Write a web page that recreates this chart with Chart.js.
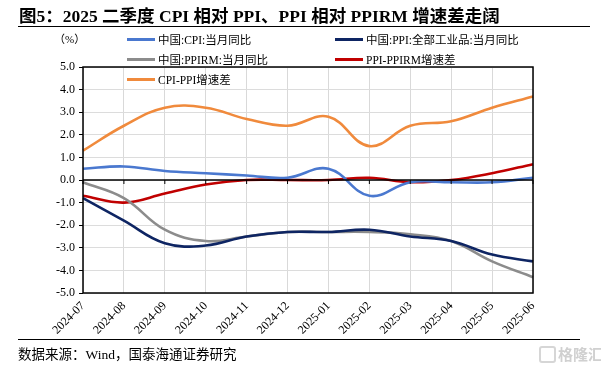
<!DOCTYPE html>
<html>
<head>
<meta charset="utf-8">
<script src="https://cdn.jsdelivr.net/npm/chart.js@4/dist/chart.umd.min.js"></script>
<style>
  html, body { margin:0; padding:0; background:#fff; }
  #wrap { position:relative; width:601px; height:377px; overflow:hidden; font-family:"Liberation Serif","Noto Sans CJK SC",serif; }
  #c { position:absolute; left:0; top:0; }
  .t { position:absolute; white-space:nowrap; color:#000; }
  .lg { position:absolute; height:3px; }
  .hr { position:absolute; height:0; border-top:1.5px solid #000; }
</style>
</head>
<body>
<div id="wrap">
  <canvas id="c" width="601" height="377"></canvas>
  <div class="t" style="left:19px;top:2px;font-size:17.5px;font-weight:bold;">图5：2025 二季度 CPI 相对 PPI、PPI 相对 PPIRM 增速差走阔</div>
  <div class="hr" style="left:18px;width:572px;top:26px;"></div>
  <div class="t" style="left:54px;top:30px;font-size:11px;">（%）</div>
  <div id="legend"></div>
  <div class="hr" style="left:18px;width:562px;top:339px;"></div>
  <div class="t" style="left:18px;top:343px;font-size:13.5px;">数据来源：Wind，国泰海通证券研究</div>
  <div class="t" style="left:539px;top:343px;font-size:15px;color:#d0d0d0;font-family:'Noto Sans CJK SC';font-weight:bold;"><span style="display:inline-block;width:13px;height:13px;border:2px solid #d6d6d6;border-radius:3px;vertical-align:-3px;margin-right:2px;"></span>格隆汇</div>
</div>
<script>
const categories = ["2024-07","2024-08","2024-09","2024-10","2024-11","2024-12","2025-01","2025-02","2025-03","2025-04","2025-05","2025-06"];
const cpiYoY      = [0.5, 0.6, 0.4, 0.3, 0.2, 0.1, 0.5, -0.7, -0.1, -0.1, -0.1, 0.1];
const ppiYoY      = [-0.8, -1.8, -2.8, -2.9, -2.5, -2.3, -2.3, -2.2, -2.5, -2.7, -3.3, -3.6];
const ppirmYoY    = [-0.1, -0.8, -2.2, -2.7, -2.5, -2.3, -2.3, -2.3, -2.4, -2.7, -3.6, -4.3];
const ppiPpirmGap = [-0.7, -1.0, -0.6, -0.2, 0.0, 0.0, 0.0, 0.1, -0.1, 0.0, 0.3, 0.7];
const cpiPpiGap   = [1.3, 2.4, 3.2, 3.2, 2.7, 2.4, 2.8, 1.5, 2.4, 2.6, 3.2, 3.7];
const yTicks = [5, 4, 3, 2, 1, 0, -1, -2, -3, -4, -5];

const series = [
  {name:"中国:CPI:当月同比", data:cpiYoY, color:"#4A78CF", lx:127, ly:38},
  {name:"中国:PPI:全部工业品:当月同比", data:ppiYoY, color:"#0E2563", lx:335, ly:38},
  {name:"中国:PPIRM:当月同比", data:ppirmYoY, color:"#8C8C8C", lx:127, ly:58},
  {name:"PPI-PPIRM增速差", data:ppiPpirmGap, color:"#C00000", lx:335, ly:58},
  {name:"CPI-PPI增速差", data:cpiPpiGap, color:"#F08A3C", lx:127, ly:78}
];

const lg = document.getElementById('legend');
series.forEach(s => {
  const l = document.createElement('div');
  l.className = 'lg';
  l.style.cssText = `left:${s.lx}px;top:${s.ly}px;width:28px;background:${s.color};`;
  lg.appendChild(l);
  const t = document.createElement('div');
  t.className = 't';
  t.style.cssText = `left:${s.lx+31}px;top:${s.ly-7}px;font-size:11.5px;`;
  t.textContent = s.name;
  lg.appendChild(t);
});

const frame = {
  id:'frame',
  afterDatasetsDraw(chart){
    const {ctx, chartArea:a, scales:{x, y}} = chart;
    ctx.save();
    ctx.strokeStyle = '#000';
    ctx.lineWidth = 1.5;
    ctx.strokeRect(a.left, a.top, a.right - a.left, a.bottom - a.top);
    const y0 = y.getPixelForValue(0);
    ctx.beginPath();
    ctx.moveTo(a.left, y0); ctx.lineTo(a.right, y0);
    ctx.stroke();
    ctx.lineWidth = 1;
    categories.forEach((c, i) => {
      const px = x.getPixelForValue(i);
      ctx.beginPath();
      ctx.moveTo(px, y0); ctx.lineTo(px, y0 + 4);
      ctx.stroke();
    });
    ctx.restore();
  }
};

new Chart(document.getElementById('c'), {
  type:'line',
  data:{
    labels:categories,
    datasets:series.map(s => ({
      label:s.name, data:s.data, borderColor:s.color, backgroundColor:s.color,
      borderWidth:2.6, pointRadius:0, tension:0.4, fill:false
    }))
  },
  options:{
    responsive:false, animation:false,
    layout:{padding:{left:0, top:67, right:68, bottom:0}},
    plugins:{legend:{display:false}, tooltip:{enabled:false}},
    scales:{
      x:{
        offset:false,
        grid:{color:'#D9D9D9', lineWidth:1, drawTicks:false},
        border:{display:false},
        ticks:{maxRotation:45, minRotation:45, autoSkip:false, padding:6, color:'#000',
               font:{family:'Liberation Serif', size:12}},
        afterFit(s){ s.height = 84; }
      },
      y:{
        min:-5, max:5,
        afterBuildTicks(s){ s.ticks = yTicks.map(v => ({value:v})); },
        grid:{color:'#DCDCDC', lineWidth:1, tickLength:4, tickColor:'#000'},
        border:{display:false},
        ticks:{color:'#000', padding:4, font:{family:'Liberation Serif', size:12},
               callback:v => Number(v).toFixed(1)},
        afterFit(s){ s.width = 83; }
      }
    }
  },
  plugins:[frame]
});
</script>
</body>
</html>
